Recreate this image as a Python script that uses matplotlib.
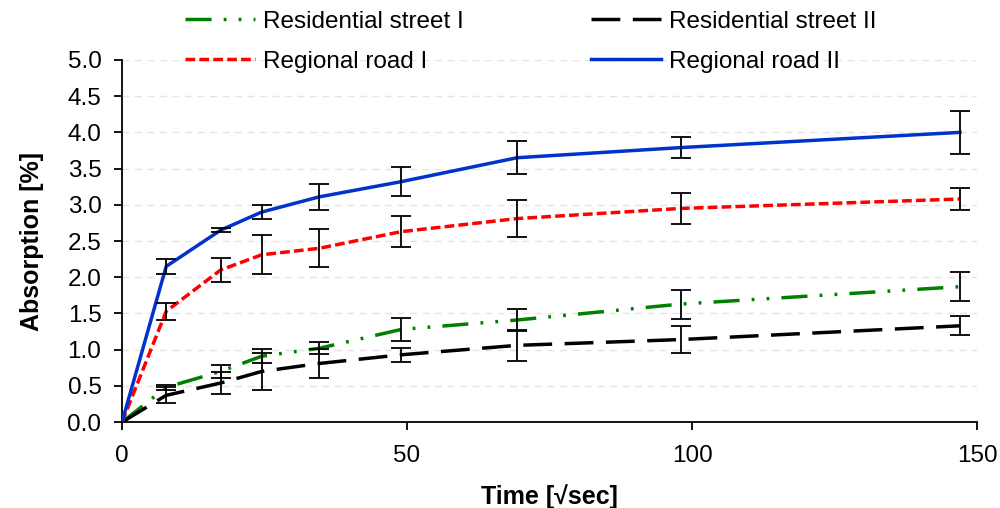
import matplotlib
matplotlib.use("Agg")
import matplotlib.pyplot as plt
import numpy as np

plt.rcParams.update({"font.family": ["Liberation Sans", "DejaVu Sans"], "font.size": 17.5})

# time points in sqrt(seconds)
time_sqrt = [0, 7.75, 17.3, 24.5, 34.6, 49.0, 69.3, 98.0, 147.0]

# absorption [%] and standard deviation per series
res1 = [0, 0.48, 0.70, 0.91, 1.02, 1.28, 1.41, 1.63, 1.87]
res1_err = [0, 0.03, 0.09, 0.10, 0.08, 0.16, 0.15, 0.20, 0.20]
res2 = [0, 0.37, 0.54, 0.70, 0.81, 0.93, 1.06, 1.14, 1.33]
res2_err = [0, 0.11, 0.15, 0.25, 0.20, 0.10, 0.21, 0.19, 0.13]
reg1 = [0, 1.53, 2.10, 2.31, 2.40, 2.63, 2.81, 2.95, 3.08]
reg1_err = [0, 0.12, 0.17, 0.27, 0.26, 0.21, 0.26, 0.21, 0.15]
reg2 = [0, 2.15, 2.65, 2.90, 3.11, 3.32, 3.65, 3.79, 4.00]
reg2_err = [0, 0.10, 0.03, 0.10, 0.18, 0.20, 0.23, 0.15, 0.30]

labels = ["Residential street I", "Residential street II", "Regional road I", "Regional road II"]

GREEN = "#008000"
BLACK = "#000000"
RED = "#ff0000"
BLUE = "#0033cc"

fig = plt.figure(figsize=(10, 5.08), dpi=100)
ax = fig.add_axes([0.122, 0.169, 0.855, 0.713])

styles = [
    (res1, res1_err, GREEN, (0, (7.5, 3.5, 0.8, 3.5, 0.8, 3.5))),
    (res2, res2_err, BLACK, (0, (8.3, 3.6))),
    (reg1, reg1_err, RED, (0, (2.8, 1.2))),
    (reg2, reg2_err, BLUE, "-"),
]

handles = []
for (vals, err, col, ls), lab in zip(styles, labels):
    ln, = ax.plot(time_sqrt, vals, color=col, lw=2.5, linestyle=ls,
                  label=lab, zorder=3)
    handles.append(ln)
    ax.errorbar(time_sqrt[1:], vals[1:], yerr=err[1:], fmt="none",
                ecolor="black", elinewidth=1.3, capsize=7, capthick=1.3,
                zorder=4)

ax.set_xlim(0, 150)
ax.set_ylim(0, 5.0)
ax.set_xticks([0, 50, 100, 150])
ax.set_yticks(np.arange(0, 5.01, 0.5))
ax.yaxis.set_major_formatter(matplotlib.ticker.FormatStrFormatter("%.1f"))
ax.yaxis.grid(True, color="#e4e4e4", linestyle=(0, (5, 4)), lw=1.0, zorder=0)
ax.set_axisbelow(True)

for s in ("top", "right"):
    ax.spines[s].set_visible(False)
for s in ("left", "bottom"):
    ax.spines[s].set_linewidth(1.3)
ax.tick_params(direction="out", length=5.8, width=1.3, labelsize=17.5, pad=9)
ax.tick_params(axis="x", pad=11)

ax.set_xlabel("Time [\u221asec]", fontsize=18, fontweight="bold", labelpad=12)
ax.set_ylabel("Absorption [%]", fontsize=18, fontweight="bold", labelpad=17)

# legend: two columns above the plot, Excel-like order
order = [0, 2, 1, 3]
fig.legend([handles[i] for i in order], [labels[i] for i in order],
           loc="upper left", bbox_to_anchor=(0.163, 1.022), ncol=2,
           frameon=False, fontsize=17.5, handlelength=2.9, handletextpad=0.3,
           columnspacing=5.25, labelspacing=0.75)

fig.savefig("out.png", dpi=100)
